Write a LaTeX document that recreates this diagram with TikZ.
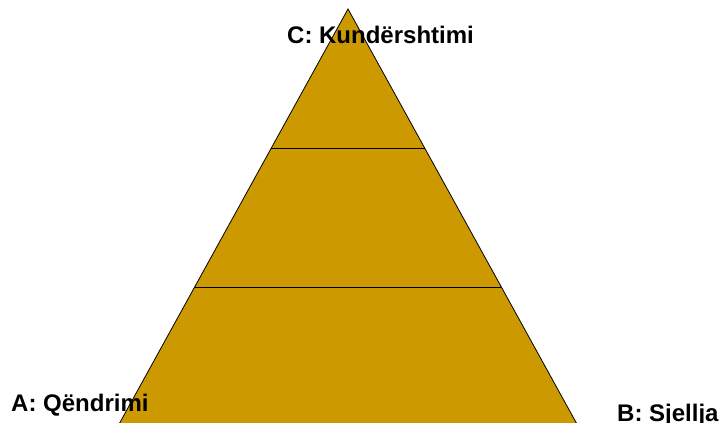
\documentclass[tikz,border=0pt]{standalone}
\usepackage{fontspec}
\setmainfont{Liberation Sans}
\usetikzlibrary{calc}
\definecolor{pyramidgold}{HTML}{CC9900}

\begin{document}
\begin{tikzpicture}[
    x=1pt, y=-1pt,
    layer/.style={
        fill=pyramidgold,
        draw=black,
        line width=0.8pt
    },
    divider/.style={draw=black, line width=0.9pt},
    corner/.style={
        anchor=base west,
        inner sep=0pt,
        font=\fontsize{24}{28}\selectfont\bfseries
    }
]
\useasboundingbox (0,0) rectangle (721,423);
\clip (0,0) rectangle (721,423);

\coordinate (apex) at (348,9);
\coordinate (baseleft) at (118,426);
\coordinate (baseright) at (578,426);

\filldraw[layer] (apex) -- (baseleft) -- (baseright) -- cycle;
\draw[divider] ($(apex)!1/3!(baseleft)$) -- ($(apex)!1/3!(baseright)$);
\draw[divider] ($(apex)!2/3!(baseleft)$) -- ($(apex)!2/3!(baseright)$);

\node[corner] (top) at (287,43) {C: Kundërshtimi};
\node[corner] (left) at (11,411) {A: Qëndrimi};
\node[corner] (right) at (617,421) {B: Sjellja};

\end{tikzpicture}
\end{document}
